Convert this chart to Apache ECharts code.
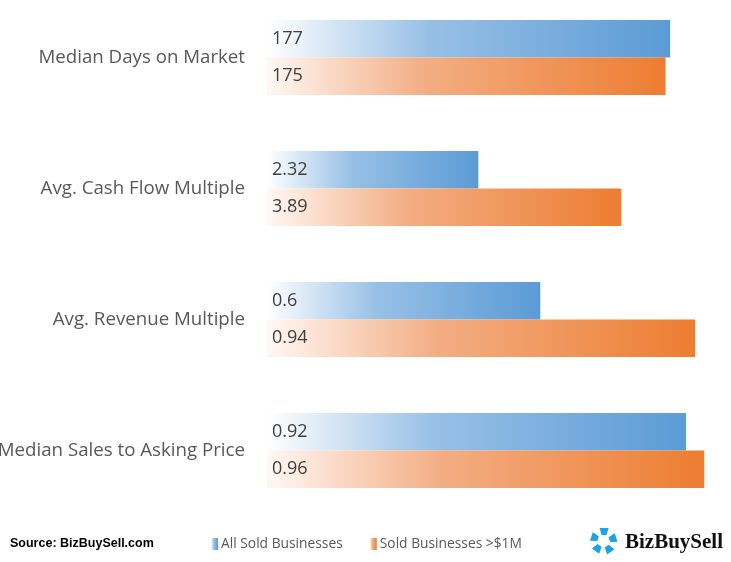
<!DOCTYPE html>
<html lang="en">
<head>
  <meta charset="UTF-8" />
  <title>BizBuySell comparison</title>
  <script src="https://cdn.jsdelivr.net/npm/echarts@6/dist/echarts.min.js"></script>
  <style>
    body { margin: 0; background: #fff; }
    #chart { width: 731px; height: 562px; }
  </style>
</head>
<body>
  <div id="chart"></div>
  <script>
    const categories = [
      "Median Days on Market",
      "Avg. Cash Flow Multiple",
      "Avg. Revenue Multiple",
      "Median Sales to Asking Price"
    ];
    // each metric is drawn against its own full-scale value
    const categoryScale = [200, 5, 1, 1];
    const allSold = [177, 2.32, 0.6, 0.92];
    const soldOver1M = [175, 3.89, 0.94, 0.96];
    const seriesNames = ["All Sold Businesses", "Sold Businesses >$1M"];

    const font = "'Open Sans', 'Noto Sans', sans-serif";

    function grad(light, mid, full) {
      return new echarts.graphic.LinearGradient(0, 0, 1, 0, [
        { offset: 0, color: light },
        { offset: 0.4, color: mid },
        { offset: 1, color: full }
      ]);
    }
    const blue = grad("#ffffff", "#98c0e6", "#5b9bd5");
    const orange = grad("#fff8f4", "#f3ad83", "#ed7d31");

    function toBars(values) {
      return values.map((v, i) => ({ value: v / categoryScale[i], raw: v }));
    }

    const chart = echarts.init(document.getElementById("chart"));
    chart.setOption({
      animation: false,
      grid: { left: 267, right: 8.5, top: -8, height: 524, outerBoundsMode: "none", containLabel: false },
      xAxis: { type: "value", min: 0, max: 1, show: false },
      yAxis: {
        type: "category",
        inverse: true,
        data: categories,
        axisLine: { show: false },
        axisTick: { show: false },
        axisLabel: { margin: 22, fontSize: 18.7, color: "#595959", fontFamily: font }
      },
      legend: {
        left: 206,
        top: 532,
        itemWidth: 7,
        itemHeight: 12,
        itemGap: 27,
        icon: "rect",
        textStyle: { fontSize: 13.8, color: "#595959", fontFamily: font, padding: [0, 0, 0, -2] },
        data: seriesNames
      },
      series: [
        { name: seriesNames[0], data: toBars(allSold), color: "#5b9bd5", itemStyle: { color: blue } },
        { name: seriesNames[1], data: toBars(soldOver1M), color: "#ed7d31", itemStyle: { color: orange } }
      ].map(s => Object.assign({
        type: "bar",
        barGap: "0%",
        barWidth: 37.5,
        label: {
          show: true,
          position: "insideLeft",
          distance: 5,
          fontSize: 18,
          color: "#404040",
          fontFamily: font,
          formatter: p => p.data.raw
        }
      }, s)),
      graphic: [
        {
          type: "text", left: 10, top: 537,
          style: { text: "Source: BizBuySell.com", font: "bold 12.5px 'Liberation Sans', Arial, sans-serif", fill: "#000" }
        },
        {
          type: "group", left: 590, top: 528,
          children: [0, 1, 2, 3, 4].map(k => ({
            type: "polygon",
            rotation: -k * 2 * Math.PI / 5,
            x: 13, y: 14,
            shape: { points: [[-4, -13], [5, -13], [3, -6], [-2, -6]] },
            style: { fill: "#1ca3e3" }
          }))
        },
        {
          type: "text", left: 625, top: 532,
          style: { text: "BizBuySell", font: "bold 21px 'Liberation Serif', 'DejaVu Serif', serif", fill: "#111" }
        }
      ]
    });
  </script>
</body>
</html>
